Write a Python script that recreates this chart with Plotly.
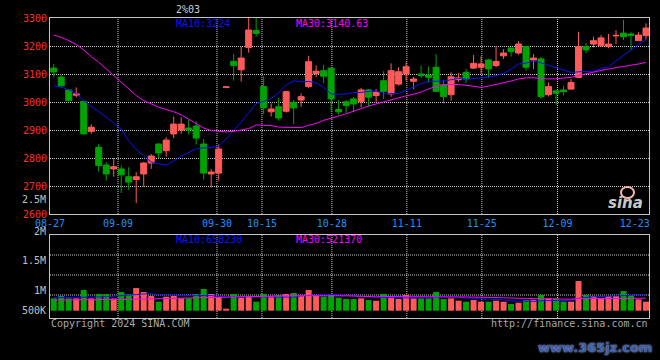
import plotly.graph_objects as go
import pandas as pd

# ---------------- data ----------------
opens = [3121, 3089, 3043, 3024, 3002, 2895, 2838, 2775, 2761, 2761,
         2733, 2723, 2743, 2782, 2850, 2826, 2886, 2900, 2907, 2914,
         2850, 2743, 2746, 3052, 3145, 3115, 3195, 3255, 3055, 2965,
         2983, 2967, 2999, 3007, 3055, 3102, 3112, 3121, 2973, 3001,
         3011, 3001, 3043, 3023, 3076, 3029, 3064, 3100, 3074, 3100,
         3096, 3124, 3061, 3026, 3080, 3106, 3121, 3124, 3150, 3130,
         3165, 3193, 3175, 3198, 3150, 3154, 3026, 3040, 3043, 3046,
         3088, 3198, 3207, 3201, 3198, 3236, 3246, 3243, 3219, 3237]
highs = [3136, 3096, 3046, 3052, 3007, 2921, 2850, 2785, 2800, 2773,
         2767, 2749, 2785, 2814, 2852, 2874, 2948, 2945, 2936, 2931,
         2868, 2761, 2848, 3054, 3171, 3198, 3330, 3330, 3092, 2995,
         3014, 3040, 3007, 3031, 3165, 3130, 3133, 3124, 3007, 3007,
         3017, 3050, 3046, 3046, 3110, 3138, 3124, 3142, 3090, 3130,
         3126, 3171, 3079, 3106, 3104, 3118, 3168, 3163, 3154, 3199,
         3189, 3195, 3217, 3200, 3171, 3160, 3070, 3041, 3058, 3082,
         3251, 3211, 3233, 3239, 3243, 3257, 3293, 3249, 3249, 3281]
lows = [3088, 3052, 3003, 3017, 2883, 2886, 2751, 2719, 2733, 2675,
        2686, 2639, 2698, 2761, 2799, 2805, 2871, 2886, 2883, 2848,
        2723, 2695, 2719, 3052, 3076, 3073, 3176, 3233, 2957, 2948,
        2933, 2962, 2921, 2983, 3050, 3090, 3067, 2967, 2955, 2961,
        2963, 2981, 2983, 2999, 3011, 3019, 3058, 3076, 3046, 3086,
        3070, 3035, 2995, 3005, 3072, 3068, 3118, 3102, 3086, 3124,
        3154, 3162, 3169, 3112, 3118, 3011, 3020, 2990, 3023, 3044,
        3086, 3174, 3195, 3199, 3192, 3207, 3221, 3186, 3219, 3223]
closes = [3107, 3058, 3005, 3029, 2886, 2910, 2773, 2743, 2769, 2740,
          2714, 2733, 2782, 2807, 2818, 2864, 2921, 2921, 2900, 2871,
          2746, 2750, 2832, 3054, 3130, 3157, 3257, 3245, 2979, 2975,
          2943, 3037, 2979, 3019, 3144, 3110, 3092, 3011, 2965, 2987,
          2993, 3043, 3017, 3035, 3038, 3112, 3108, 3126, 3082, 3094,
          3088, 3038, 3019, 3090, 3086, 3082, 3138, 3136, 3118, 3145,
          3175, 3180, 3207, 3124, 3157, 3019, 3055, 3031, 3037, 3070,
          3198, 3186, 3219, 3229, 3207, 3238, 3233, 3238, 3239, 3264]
volumes = [516000, 614000, 516000, 516000, 865000, 516000, 697000, 697000, 516000, 781000,
           697000, 948000, 781000, 614000, 377000, 586000, 614000, 516000, 516000, 697000,
           907000, 697000, 586000, 70000, 697000, 544000, 586000, 377000, 697000, 614000,
           656000, 697000, 739000, 614000, 865000, 614000, 586000, 697000, 544000, 488000,
           488000, 516000, 446000, 418000, 697000, 614000, 488000, 656000, 516000, 516000,
           516000, 781000, 488000, 516000, 418000, 377000, 446000, 377000, 377000, 418000,
           377000, 279000, 335000, 446000, 446000, 656000, 516000, 516000, 377000, 377000,
           1241000, 656000, 614000, 516000, 614000, 614000, 823000, 656000, 474000, 377000]

# moving-average values before enough in-window history exists
price_ma10_head = [3058, 3053, 3044, 3030, 3004, 2985, 2967, 2946, 2925]
price_ma30_head = [3239, 3231, 3219, 3205, 3186, 3162, 3142, 3118, 3094, 3070,
                   3046, 3023, 3005, 2993, 2981, 2973, 2965, 2954, 2939, 2921,
                   2907, 2898, 2895, 2893, 2895, 2900, 2905, 2918, 2918]
vol_ma10_head = [545000, 545000, 550000, 550000, 560000, 565000, 575000, 585000, 600000]
vol_ma30_head = [446000, 446000, 450000, 452000, 455000, 458000, 462000, 466000, 470000, 474000,
                 474000, 480000, 485000, 488000, 490000, 495000, 500000, 510000, 520000, 530000,
                 540000, 550000, 560000, 570000, 580000, 585000, 590000, 595000, 600000]

date_labels = ["08-27", "09-09", "09-30", "10-15", "10-28", "11-11", "11-25", "12-09", "12-23"]
date_index = [0, 9, 22, 28, 37, 47, 57, 67, 77]
price_ticks = [2600, 2700, 2800, 2900, 3000, 3100, 3200, 3300]
vol_labels = ["2.5M", "2M", "1.5M", "1M", "500K"]
title_text = "2%03"
price_ma_labels = ["MA10:3224", "MA30:3140.63"]
vol_ma_labels = ["MA10:658230", "MA30:521370"]

# ---------------- derived series ----------------
n = len(closes)
idx = list(range(n))
cs = pd.Series(closes, dtype=float)
vs = pd.Series(volumes, dtype=float)
pma10 = cs.rolling(10).mean().tolist()
pma30 = cs.rolling(30).mean().tolist()
vma10 = vs.rolling(10).mean().tolist()
vma30 = vs.rolling(30).mean().tolist()
pma10[:len(price_ma10_head)] = price_ma10_head
pma30[:len(price_ma30_head)] = price_ma30_head
vma10[:len(vol_ma10_head)] = vol_ma10_head
vma30[:len(vol_ma30_head)] = vol_ma30_head

RED = "#ff5a5a"
GREEN = "#00a400"
BLUE = "#1010ff"
MAG = "#ff00ff"
GRID = "#c8c8c8"
FRAME = "#c4c4c4"
MONO = "DejaVu Sans Mono"

bar_colors = [RED if c >= o else GREEN for o, c in zip(opens, closes)]

fig = go.Figure()
fig.add_trace(go.Candlestick(
    x=idx, open=opens, high=highs, low=lows, close=closes,
    increasing=dict(line=dict(color=RED, width=1), fillcolor=RED),
    decreasing=dict(line=dict(color=GREEN, width=1), fillcolor=GREEN),
    whiskerwidth=0, xaxis="x", yaxis="y", hoverinfo="skip"))
fig.add_trace(go.Scatter(x=idx, y=pma10, mode="lines", line=dict(color=BLUE, width=1),
                         xaxis="x", yaxis="y", hoverinfo="skip"))
fig.add_trace(go.Scatter(x=idx, y=pma30, mode="lines", line=dict(color=MAG, width=1),
                         xaxis="x", yaxis="y", hoverinfo="skip"))
fig.add_trace(go.Bar(x=idx, y=volumes, marker=dict(color=bar_colors, line=dict(width=0)),
                     width=0.8, xaxis="x2", yaxis="y2", hoverinfo="skip"))
fig.add_trace(go.Scatter(x=idx, y=vma10, mode="lines", line=dict(color=BLUE, width=1),
                         xaxis="x2", yaxis="y2", hoverinfo="skip"))
fig.add_trace(go.Scatter(x=idx, y=vma30, mode="lines", line=dict(color=MAG, width=1),
                         xaxis="x2", yaxis="y2", hoverinfo="skip"))

# ---------------- layout ----------------
L, R, T, B = 50, 11, 18, 42
PW, PH = 660 - L - R, 360 - T - B


def px(x):
    return (x - L) / PW


def py(y):
    return (T + PH - y) / PH


price_dom = [py(214), 1]
vol_dom = [0, py(234.7)]
xr = [-0.5, n - 0.5 - 0.1]

# volume axis: zero sits 7.3 px above the panel's bottom frame, ~41.8K per pixel
per_px = 41841
vol_range = [-(318 - 310.7) * per_px, (310.7 - 234.7) * per_px]

tick_shift = [-0.5, -0.43, -0.23, -0.23, 0.1, 0.1, 0.1, 0.2, 0.5]
tick_pos = [i + s for i, s in zip(date_index, tick_shift)]

axis_common = dict(showline=True, mirror=True, linecolor=FRAME, linewidth=1,
                   zeroline=False, fixedrange=True)

fig.update_layout(
    width=660, height=360,
    margin=dict(l=L, r=R, t=T, b=B),
    paper_bgcolor="black", plot_bgcolor="black",
    showlegend=False, boxgap=0.2, boxgroupgap=0,
    xaxis=dict(domain=[0, 1], anchor="y", range=xr, tickmode="array",
               tickvals=tick_pos, ticktext=date_labels, ticks="",
               tickfont=dict(family=MONO, size=10, color="#1e90ff"),
               showgrid=False, rangeslider=dict(visible=False), **axis_common),
    yaxis=dict(domain=price_dom, anchor="x", range=[price_ticks[0], price_ticks[-1]],
               tickmode="array", tickvals=price_ticks, ticktext=[str(t) for t in price_ticks],
               ticks="", tickfont=dict(family=MONO, size=10, color="#ff2a2a"),
               showgrid=True, gridcolor=GRID, griddash="1px,1px", gridwidth=1,
               **axis_common),
    xaxis2=dict(domain=[0, 1], anchor="y2", range=xr, showticklabels=False,
                ticks="", showgrid=False, **axis_common),
    yaxis2=dict(domain=vol_dom, anchor="x2", range=vol_range, showticklabels=False,
                ticks="", showgrid=False, **axis_common),
)

shapes = []
for p in tick_pos[1:-1]:
    for xref, yref in (("x", "y domain"), ("x2", "y2 domain")):
        shapes.append(dict(type="line", xref=xref, yref=yref, x0=p, x1=p, y0=0, y1=1,
                           line=dict(color=GRID, width=1, dash="1px,1px"), layer="below"))
for gy in (255, 275, 295):
    f = (318 - gy) / (318 - 234.7)
    shapes.append(dict(type="line", xref="x2 domain", yref="y2 domain", x0=0, x1=1,
                       y0=f, y1=f, line=dict(color=GRID, width=1, dash="1px,1px"),
                       layer="below"))
# sina logo eye
shapes.append(dict(type="circle", xref="paper", yref="paper",
                   x0=px(621), x1=px(634), y0=py(198), y1=py(187),
                   line=dict(color="#f4b4b4", width=2)))
fig.update_layout(shapes=shapes)

ann = []


def txt(x, y, s, color, size=10, xa="left", family=MONO, **kw):
    ann.append(dict(x=px(x), y=py(y), xref="paper", yref="paper", text=s,
                    showarrow=False, xanchor=xa, yanchor="middle",
                    font=dict(family=family, size=size, color=color, **kw)))


txt(188, 9.5, title_text, "#d0d0d0", xa="center")
txt(174, 23, price_ma_labels[0], BLUE)
txt(294, 23, price_ma_labels[1], MAG)
txt(174, 239, vol_ma_labels[0], BLUE)
txt(294, 239, vol_ma_labels[1], MAG)
for lab, yy in zip(vol_labels, (199.5, 231.5, 260.7, 290.7, 310.5)):
    txt(48, yy, lab, "#c0c0c0", xa="right")
txt(49, 323.5, "Copyright 2024 SINA.COM", "#a8a8a8")
txt(650, 323.5, "http://finance.sina.com.cn", "#a8a8a8", xa="right")
txt(625, 203, "sina", "#c8c8c8", size=15, xa="center", family="DejaVu Sans",
    weight="bold", style="italic")
txt(595, 347, "www.365jz.com", "#3a5ea8", size=13, xa="center", family="DejaVu Sans",
    weight="bold", shadow="0px 0px 2px #c8d8ff")
fig.update_layout(annotations=ann)

fig.write_html("out.html", config={"displayModeBar": False},
               post_script="document.body.style.margin='0';"
                           "document.body.style.background='black';")
